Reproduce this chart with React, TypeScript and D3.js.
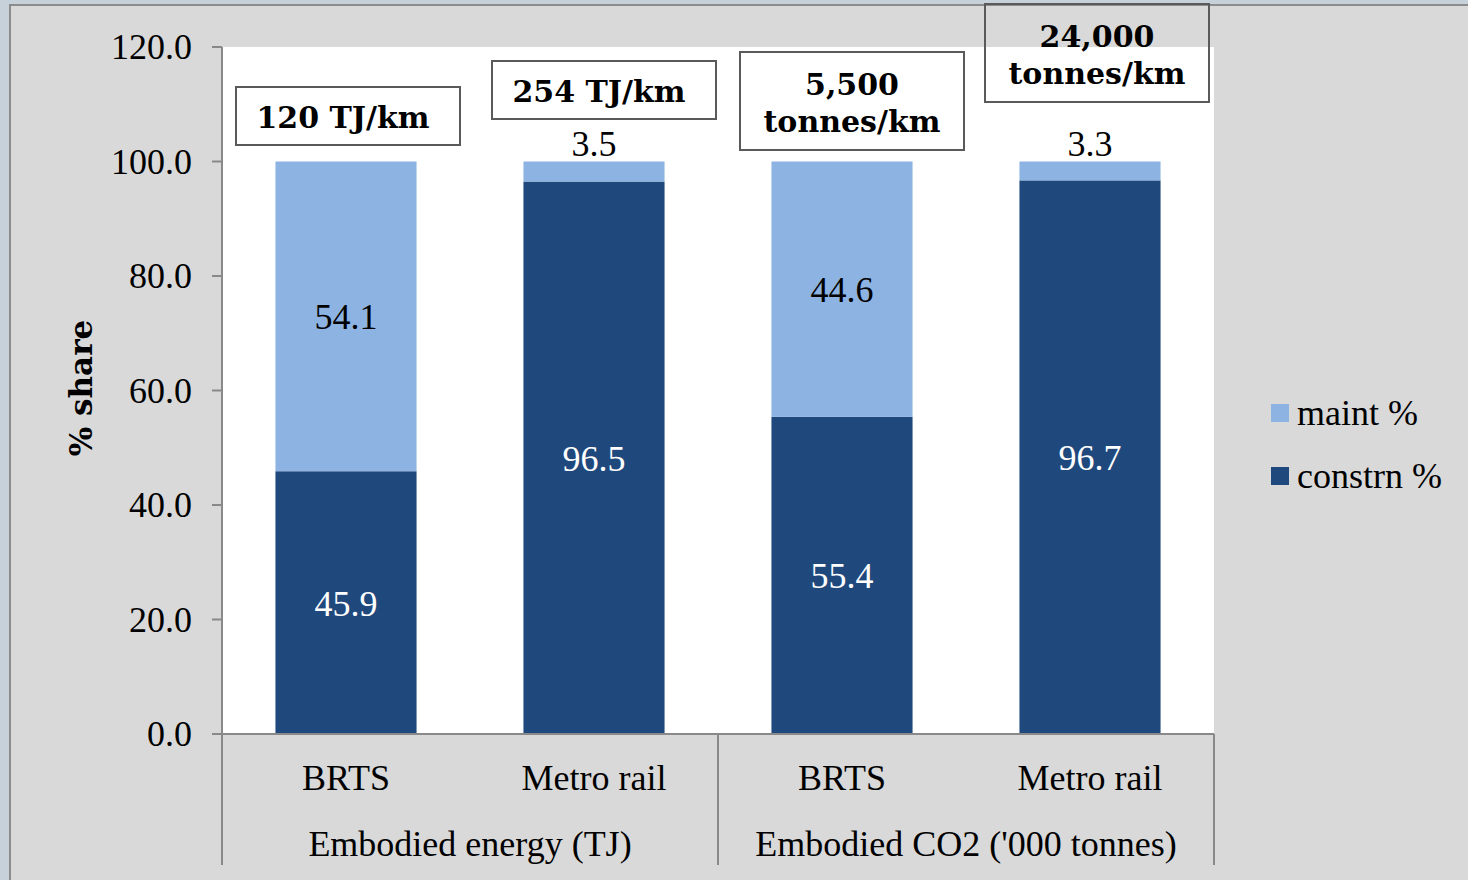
import React from "react";
import * as d3 from "d3";

// Share of construction vs maintenance in life-cycle totals
const categories = ["BRTS", "Metro rail", "BRTS", "Metro rail"];
const groups = ["Embodied energy (TJ)", "Embodied CO2 ('000 tonnes)"];
const constrPct = [45.9, 96.5, 55.4, 96.7];
const maintPct = [54.1, 3.5, 44.6, 3.3];
const intensityLabels = [["120 TJ/km"], ["254 TJ/km"], ["5,500", "tonnes/km"], ["24,000", "tonnes/km"]];
const yTicks = [0, 20, 40, 60, 80, 100, 120];
const seriesNames = ["maint %", "constrn %"];

const W = 1468;
const H = 880;
const plot = { left: 222, right: 1214, top: 47, bottom: 734 };
const COLOR_MAINT = "#8db3e2";
const COLOR_CONSTR = "#1f497d";
const AXIS = "#898989";
const SERIF = "'Liberation Serif', 'Times New Roman', serif";
const BOLD_SERIF = "'DejaVu Serif', Georgia, serif";
const FS = 36;

// annotation box placement (centre offset from bar, top edge)
const boxLayout = [
  { dx: 2, top: 87 },
  { dx: 10, top: 61 },
  { dx: 10, top: 52 },
  { dx: 7, top: 4 },
];

export default function App() {
  const ids = categories.map((_, i) => String(i));
  const x = d3
    .scaleBand<string>()
    .domain(ids)
    .range([plot.left, plot.right])
    .paddingInner(0.431)
    .paddingOuter(0.2155);
  const y = d3.scaleLinear().domain([0, 120]).range([plot.bottom, plot.top]);
  const groupX = d3.scaleBand<string>().domain(groups).range([plot.left, plot.right]);
  const bw = x.bandwidth();

  return (
    <svg
      width={W}
      height={H}
      style={{ position: "absolute", left: 0, top: 0, display: "block" }}
    >
      <rect x={0} y={0} width={W} height={H} fill="#c6d1d9" />
      <rect x={10} y={5} width={W} height={H} fill="#d9d9d9" stroke="#8c8c8c" strokeWidth={2} />
      <rect
        x={plot.left}
        y={plot.top}
        width={plot.right - plot.left}
        height={plot.bottom - plot.top}
        fill="#ffffff"
      />

      {/* stacked bars */}
      {ids.map((id, i) => {
        const x0 = x(id)!;
        const cx = x0 + bw / 2;
        const c = constrPct[i];
        const m = maintPct[i];
        const yC = y(c);
        const yT = y(c + m);
        const mInside = y(c) - y(c + m) > 40;
        return (
          <g key={id}>
            <rect x={x0} y={yC} width={bw} height={y(0) - yC} fill={COLOR_CONSTR} />
            <rect x={x0} y={yT} width={bw} height={yC - yT} fill={COLOR_MAINT} />
            <text
              x={cx}
              y={(yC + y(0)) / 2 + 13}
              textAnchor="middle"
              fontFamily={SERIF}
              fontSize={FS}
              fill="#ffffff"
            >
              {c.toFixed(1)}
            </text>
            <text
              x={cx}
              y={mInside ? (yT + yC) / 2 + 13 : yT - 6}
              textAnchor="middle"
              fontFamily={SERIF}
              fontSize={FS}
              fill="#000000"
            >
              {m.toFixed(1)}
            </text>
          </g>
        );
      })}

      {/* y axis */}
      <line x1={plot.left} x2={plot.left} y1={plot.top} y2={plot.bottom} stroke={AXIS} strokeWidth={2} />
      {yTicks.map((t) => (
        <g key={t}>
          <line x1={plot.left - 10} x2={plot.left} y1={y(t)} y2={y(t)} stroke={AXIS} strokeWidth={2} />
          <text
            x={192}
            y={y(t) + 12}
            textAnchor="end"
            fontFamily={SERIF}
            fontSize={FS}
            fill="#000000"
          >
            {t.toFixed(1)}
          </text>
        </g>
      ))}
      <text
        transform="translate(92,388) rotate(-90)"
        textAnchor="middle"
        fontFamily={BOLD_SERIF}
        fontWeight="bold"
        fontSize={31}
        fill="#000000"
      >
        % share
      </text>

      {/* multi-level category axis */}
      <line x1={plot.left - 10} x2={plot.right} y1={plot.bottom} y2={plot.bottom} stroke={AXIS} strokeWidth={2} />
      {[plot.left, groupX(groups[1])!, plot.right].map((sx, i) => (
        <line key={i} x1={sx} x2={sx} y1={plot.bottom} y2={865} stroke={AXIS} strokeWidth={2} />
      ))}
      {ids.map((id, i) => (
        <text
          key={id}
          x={x(id)! + bw / 2}
          y={790}
          textAnchor="middle"
          fontFamily={SERIF}
          fontSize={FS}
          fill="#000000"
        >
          {categories[i]}
        </text>
      ))}
      {groups.map((g) => (
        <text
          key={g}
          x={groupX(g)! + groupX.bandwidth() / 2}
          y={856}
          textAnchor="middle"
          fontFamily={SERIF}
          fontSize={FS}
          fill="#000000"
        >
          {g}
        </text>
      ))}

      {/* per-km intensity boxes */}
      {ids.map((id, i) => {
        const lines = intensityLabels[i];
        const cx = x(id)! + bw / 2 + boxLayout[i].dx;
        const top = boxLayout[i].top;
        const h = lines.length === 1 ? 58 : 98;
        const bwBox = 224;
        return (
          <g key={id}>
            <rect
              x={cx - bwBox / 2}
              y={top}
              width={bwBox}
              height={h}
              fill="none"
              stroke="#5a5a5a"
              strokeWidth={2}
            />
            {lines.map((ln, k) => (
              <text
                key={k}
                x={cx - (lines.length === 1 ? 5 : 0)}
                y={top + (lines.length === 1 ? 41 : 43 + k * 37)}
                textAnchor="middle"
                fontFamily={BOLD_SERIF}
                fontWeight="bold"
                fontSize={30}
                fill="#000000"
              >
                {ln}
              </text>
            ))}
          </g>
        );
      })}

      {/* legend */}
      {seriesNames.map((s, i) => (
        <g key={s} transform={`translate(1271,${404 + i * 63})`}>
          <rect width={18} height={18} fill={i === 0 ? COLOR_MAINT : COLOR_CONSTR} />
          <text x={26} y={21} fontFamily={SERIF} fontSize={FS} fill="#000000">
            {s}
          </text>
        </g>
      ))}
    </svg>
  );
}
